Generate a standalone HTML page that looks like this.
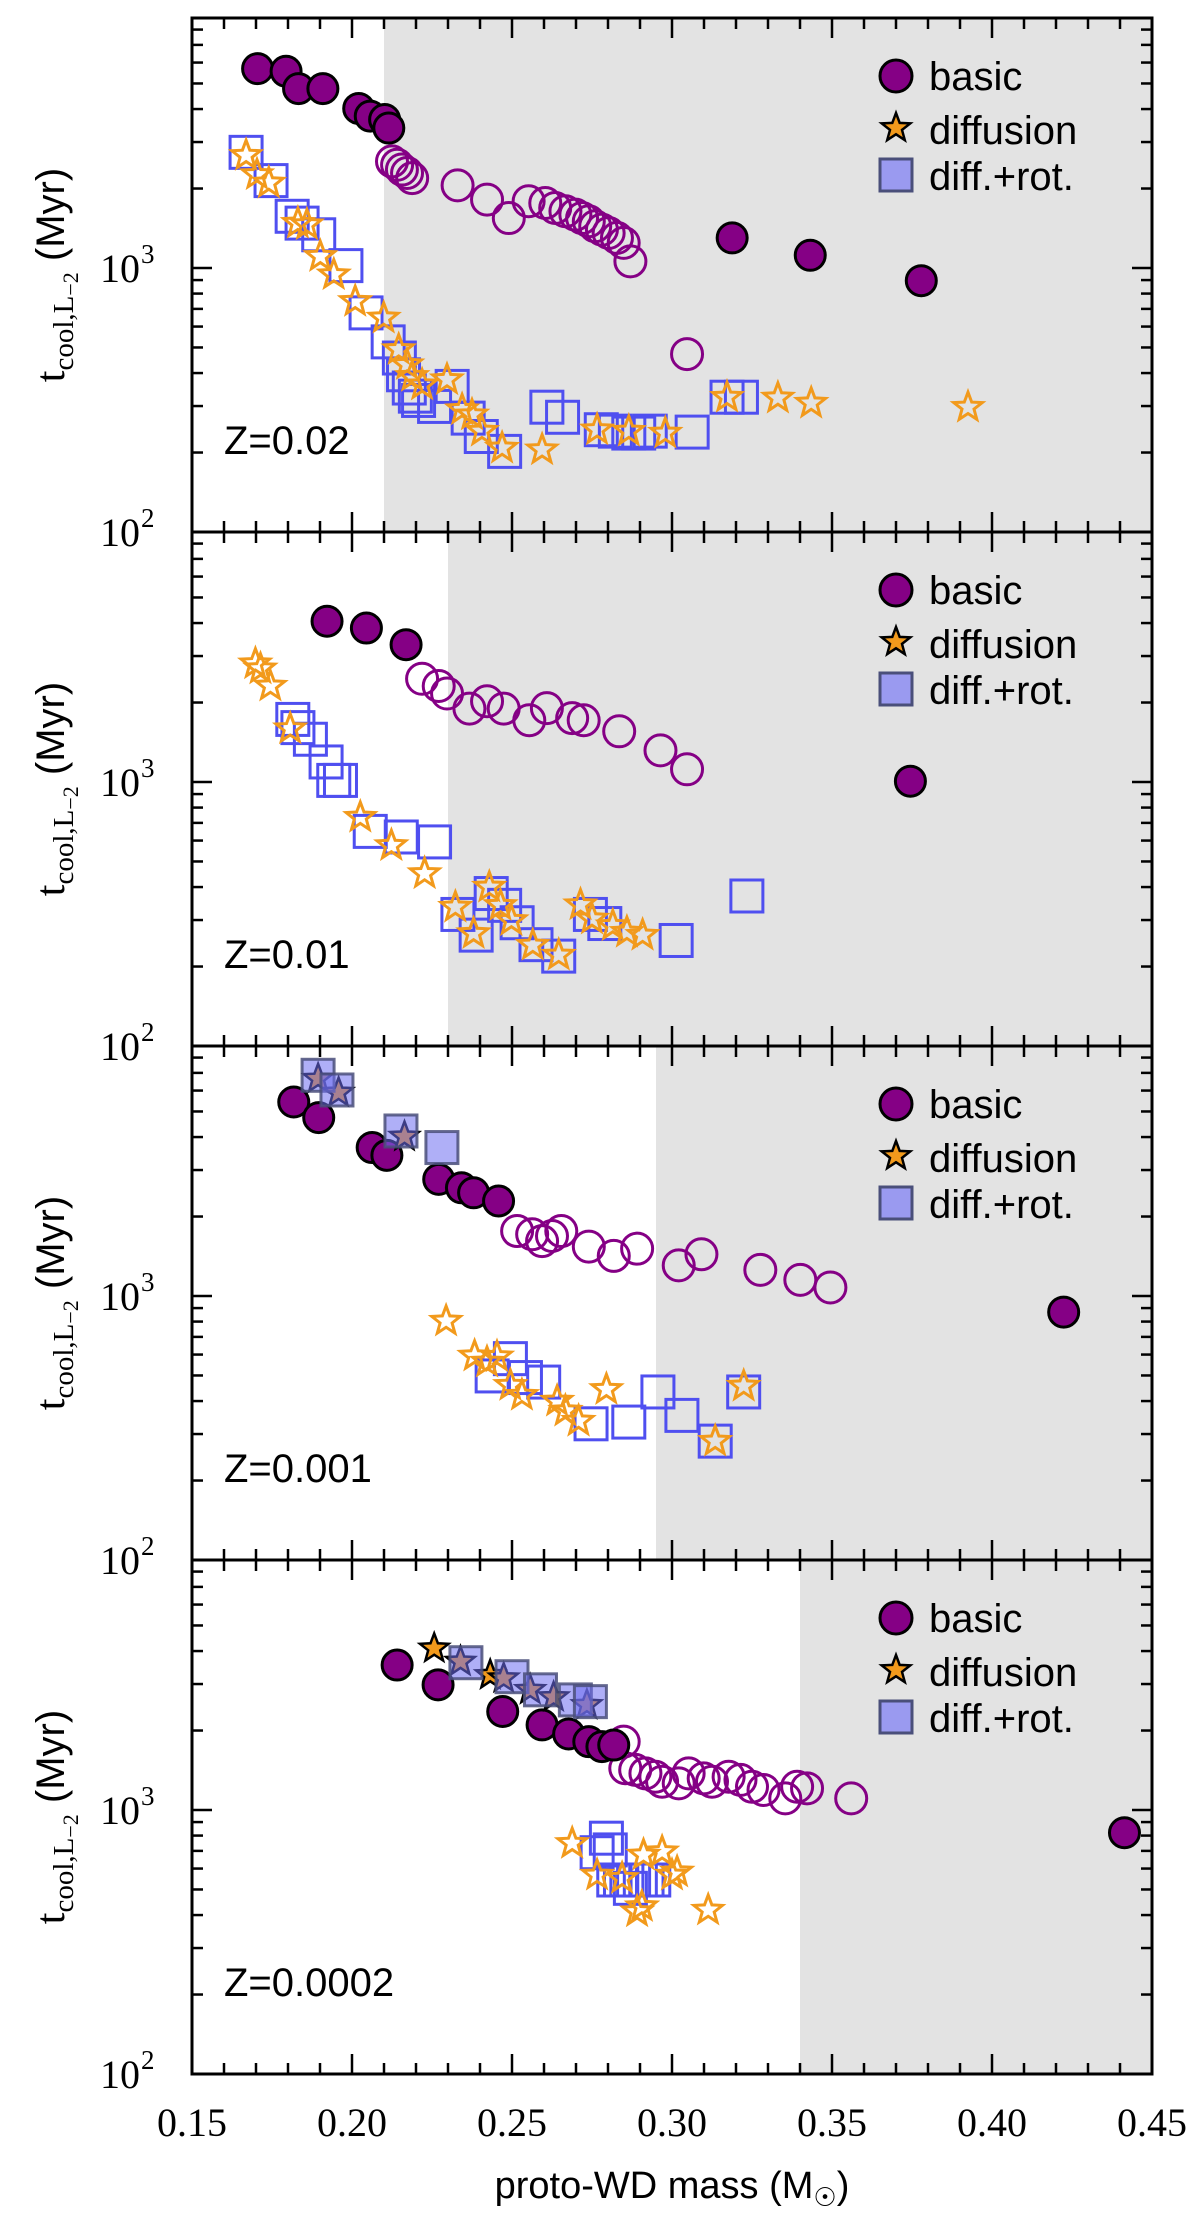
<!DOCTYPE html>
<html><head><meta charset="utf-8"><style>
html,body{margin:0;padding:0;background:#fff;}
svg{display:block;}
</style></head><body>
<svg id="chart" width="1200" height="2218" viewBox="0 0 1200 2218" xmlns="http://www.w3.org/2000/svg"></svg>
<script>
// ---- data (mass in Msun, t_cool in Myr) ----
const panelLabels = ["Z=0.02","Z=0.01","Z=0.001","Z=0.0002"];
const shadeStart = [0.21, 0.23, 0.295, 0.34];
const xTickLabels = ["0.15","0.20","0.25","0.30","0.35","0.40","0.45"];
const yTickLabels = ["10","10"];

// Panel 1 Z=0.02
const p1BasicSolidM = [0.1705,0.1794,0.1833,0.1909,0.2021,0.2057,0.2102,0.2115,0.3188,0.3432,0.3779];
const p1BasicSolidT = [5690,5560,4780,4780,4020,3760,3650,3390,1300,1117,895];
const p1BasicOpenM = [0.2125,0.2141,0.2156,0.2172,0.2188,0.2330,0.2422,0.2490,0.2552,0.2604,0.2635,0.2667,0.2698,0.2719,0.2740,0.2760,0.2781,0.2802,0.2828,0.2849,0.2870,0.3047];
const p1BasicOpenT = [2535,2460,2360,2290,2190,2056,1815,1546,1790,1763,1687,1640,1592,1546,1503,1439,1397,1357,1300,1245,1060,472];
const p1StarOpenM = [0.1669,0.1703,0.1740,0.1831,0.1859,0.1901,0.1943,0.2010,0.2099,0.2146,0.2172,0.2188,0.2219,0.2297,0.2344,0.2375,0.2406,0.2469,0.2594,0.2766,0.2865,0.2979,0.3172,0.3331,0.3435,0.3925];
const p1StarOpenT = [2672,2259,2100,1479,1459,1107,944,748,647,491,431,389,361,378,291,278,241,208,205,244,241,237,324,322,308,297];
const p1SquareOpenM = [0.1669,0.1747,0.1813,0.1844,0.1896,0.1981,0.2044,0.2113,0.2148,0.2161,0.2179,0.2198,0.2208,0.2258,0.2313,0.2363,0.2404,0.2477,0.2609,0.2658,0.2779,0.2823,0.2865,0.2896,0.2932,0.3063,0.3172,0.3217];
const p1SquareOpenT = [2742,2143,1570,1479,1336,1021,676,525,456,394,351,327,315,299,356,270,230,202,297,272,244,241,237,237,241,239,324,324];

// Panel 2 Z=0.01
const p2BasicSolidM = [0.1922,0.2045,0.2169,0.3745];
const p2BasicSolidT = [4064,3830,3311,1007];
const p2BasicOpenM = [0.2219,0.2271,0.2297,0.2367,0.2422,0.2474,0.2554,0.2609,0.2688,0.2724,0.2835,0.2964,0.3047];
const p2BasicOpenT = [2460,2310,2163,1897,2023,1897,1714,1905,1746,1714,1556,1318,1117];
const p2StarOpenM = [0.1698,0.1714,0.1745,0.1807,0.2026,0.2123,0.2227,0.2323,0.2380,0.2429,0.2464,0.2498,0.2565,0.2646,0.2714,0.2750,0.2815,0.2859,0.2908];
const p2StarOpenT = [2806,2685,2310,1592,736,575,450,336,267,400,341,299,241,221,343,303,286,270,263];
const p2SquareOpenM = [0.1815,0.1831,0.1870,0.1919,0.1943,0.1964,0.2057,0.2154,0.2258,0.2331,0.2388,0.2435,0.2477,0.2516,0.2575,0.2646,0.2745,0.2790,0.3013,0.3234];
const p2SquareOpenT = [1726,1607,1452,1191,1014,1014,650,619,593,315,263,378,341,293,242,219,315,291,251,370];

// Panel 3 Z=0.001
const p3BasicSolidM = [0.1818,0.1896,0.2063,0.2109,0.2271,0.2342,0.2380,0.2458,0.4224];
const p3BasicSolidT = [5430,4740,3650,3410,2766,2570,2460,2290,869];
const p3BasicOpenM = [0.2516,0.2563,0.2594,0.2625,0.2654,0.2740,0.2818,0.2891,0.3021,0.3092,0.3276,0.3401,0.3495];
const p3BasicOpenT = [1762,1714,1614,1687,1762,1538,1419,1511,1306,1439,1256,1151,1077];
const p3StarSolidM = [0.1894,0.1958,0.2164];
const p3StarSolidT = [6650,5890,4016];
const p3SquareSolidM = [0.1894,0.1953,0.2153,0.2281];
const p3SquareSolidT = [6855,6030,4217,3650];
const p3StarOpenM = [0.2294,0.2383,0.2422,0.2453,0.2495,0.2531,0.2641,0.2667,0.2708,0.2795,0.3135,0.3224];
const p3StarOpenT = [804,593,562,589,459,421,400,367,336,443,282,456];
const p3SquareOpenM = [0.2438,0.2495,0.2542,0.2599,0.2747,0.2865,0.2956,0.3031,0.3135,0.3224];
const p3SquareOpenT = [498,579,491,472,328,333,433,353,282,433];

// Panel 4 Z=0.0002
const p4BasicSolidM = [0.2141,0.2269,0.2471,0.2594,0.2677,0.2740,0.2781,0.2818,0.4414];
const p4BasicSolidT = [3540,2979,2361,2100,1941,1815,1738,1762,820];
const p4BasicOpenM = [0.2849,0.2854,0.2885,0.2917,0.2948,0.2969,0.3021,0.3052,0.3099,0.3125,0.3177,0.3214,0.3250,0.3286,0.3354,0.3391,0.3422,0.3560];
const p4BasicOpenT = [1815,1439,1419,1377,1337,1279,1262,1377,1318,1279,1337,1300,1225,1191,1107,1225,1208,1107];
const p4StarSolidM = [0.2257,0.2339,0.2432,0.2474,0.2557,0.2630,0.2734];
const p4StarSolidT = [4094,3648,3245,3155,2852,2675,2500];
const p4SquareSolidM = [0.2356,0.2500,0.2589,0.2698,0.2745];
const p4SquareSolidT = [3613,3198,2852,2612,2573];
const p4StarOpenM = [0.2688,0.2766,0.2844,0.2911,0.2969,0.3000,0.2891,0.2906,0.3016,0.3113];
const p4StarOpenT = [748,567,551,676,695,567,412,431,583,418];
const p4SquareOpenM = [0.2795,0.2766,0.2807,0.2818,0.2839,0.2859,0.2880,0.2901,0.2922,0.2943,0.2870];
const p4SquareOpenT = [782,689,706,543,543,543,543,543,543,543,505];

// ---- layout ----
const NS = "http://www.w3.org/2000/svg";
const svg = document.getElementById('chart');
const X0 = 192, X1 = 1152, XMIN = 0.15, XMAX = 0.45;
const PANEL_TOP0 = 18, PH = 514, YMIN = 100, YMAX = 8850;
const PURPLE = "#850085", ORANGE = "#f29a1c", BLUE = "#4f4ff0";
function xScale(m){ return X0 + (m - XMIN) / (XMAX - XMIN) * (X1 - X0); }
function yScale(t, top){ return top + (Math.log10(YMAX) - Math.log10(t)) / (Math.log10(YMAX) - Math.log10(YMIN)) * PH; }
function mk(tag, attrs, parent){ const e = document.createElementNS(NS, tag); for (const k in attrs) e.setAttribute(k, attrs[k]); (parent||svg).appendChild(e); return e; }
function starPath(cx, cy, R, r){ let d = ""; for (let i = 0; i < 10; i++){ const a = -Math.PI/2 + i*Math.PI/5; const rr = i%2 ? r : R; d += (i?"L":"M") + (cx + rr*Math.cos(a)).toFixed(1) + "," + (cy + rr*Math.sin(a)).toFixed(1); } return d + "Z"; }

function drawCircle(g, x, y, solid, name){
  const c = mk('circle', {cx:x, cy:y, r: solid?15:15.5, fill: solid?PURPLE:"none", stroke: solid?"#000":PURPLE, 'stroke-width': 3}, g);
  
  
}
function drawStar(g, x, y, solid, name){
  const s = mk('path', {d: starPath(x, y, 15, 6.3), fill: solid?ORANGE:"none", stroke: solid?"#000":ORANGE, 'stroke-width': solid?2.5:3, 'stroke-linejoin':'miter'}, g);
  
  
}
function drawSquare(g, x, y, solid, name){
  const s = mk('rect', {x:x-16, y:y-16, width:32, height:32, fill: solid?"rgba(110,110,240,0.55)":"none", stroke: solid?"#4a4f7a":BLUE, 'stroke-width': 3, 'stroke-opacity': solid?0.85:1}, g);
  
  
}

const panels = [
  {basicSolid:[p1BasicSolidM,p1BasicSolidT], basicOpen:[p1BasicOpenM,p1BasicOpenT], starOpen:[p1StarOpenM,p1StarOpenT], squareOpen:[p1SquareOpenM,p1SquareOpenT]},
  {basicSolid:[p2BasicSolidM,p2BasicSolidT], basicOpen:[p2BasicOpenM,p2BasicOpenT], starOpen:[p2StarOpenM,p2StarOpenT], squareOpen:[p2SquareOpenM,p2SquareOpenT]},
  {basicSolid:[p3BasicSolidM,p3BasicSolidT], basicOpen:[p3BasicOpenM,p3BasicOpenT], starSolid:[p3StarSolidM,p3StarSolidT], squareSolid:[p3SquareSolidM,p3SquareSolidT], starOpen:[p3StarOpenM,p3StarOpenT], squareOpen:[p3SquareOpenM,p3SquareOpenT]},
  {basicSolid:[p4BasicSolidM,p4BasicSolidT], basicOpen:[p4BasicOpenM,p4BasicOpenT], starSolid:[p4StarSolidM,p4StarSolidT], squareSolid:[p4SquareSolidM,p4SquareSolidT], starOpen:[p4StarOpenM,p4StarOpenT], squareOpen:[p4SquareOpenM,p4SquareOpenT]}
];

panels.forEach((p, i) => {
  const top = PANEL_TOP0 + i*PH, bot = top + PH;
  const g = mk('g', {});
  
  
  const sh = mk('rect', {x: xScale(shadeStart[i]), y: top, width: X1 - xScale(shadeStart[i]), height: PH, fill: "#e3e3e3"}, g);
  
  
  const drawSet = (arr, fn, solid, name) => { if (!arr) return; arr[0].forEach((m, k) => fn(g, xScale(m), yScale(arr[1][k], top), solid, name)); };
  drawSet(p.basicOpen, drawCircle, false, 'basic-open-point');
  drawSet(p.basicSolid, drawCircle, true, 'basic-point');
  drawSet(p.squareOpen, drawSquare, false, 'diff-rot-open-point');
  drawSet(p.starOpen, drawStar, false, 'diffusion-open-point');
  drawSet(p.starSolid, drawStar, true, 'diffusion-point');
  drawSet(p.squareSolid, drawSquare, true, 'diff-rot-point');
  const fr = mk('rect', {x: X0, y: top, width: X1-X0, height: PH, fill: "none", stroke: "#000", 'stroke-width': 3}, g);
  
  
  for (let k = 0; k <= 30; k++){
    const x = xScale(0.15 + k*0.01), len = (k%5===0) ? 20 : 11;
    mk('line', {x1:x, y1:bot, x2:x, y2:bot-len, stroke:"#000", 'stroke-width':2.5}, g);
    mk('line', {x1:x, y1:top, x2:x, y2:top+len, stroke:"#000", 'stroke-width':2.5}, g);
  }
  const yt = [];
  for (let d = 100; d <= 1000; d *= 10) for (let k = 1; k <= 9; k++){ const v = d*k; if (v <= YMAX) yt.push(v); }
  yt.forEach(v => {
    const y = yScale(v, top), major = (v===100 || v===1000), len = major ? 20 : 11;
    if (y < top + 1 || y > bot + 0.5) return;
    mk('line', {x1:X0, y1:y, x2:X0+len, y2:y, stroke:"#000", 'stroke-width':2.5}, g);
    mk('line', {x1:X1, y1:y, x2:X1-len, y2:y, stroke:"#000", 'stroke-width':2.5}, g);
  });
  [[1000,3],[100,2]].forEach(([v, e], j) => {
    const y = yScale(v, top);
    const t = mk('text', {x: 140, y: y + 14, 'text-anchor':'end', 'font-family':'"Liberation Serif", serif', 'font-size':40, fill:'#000'}, g);
    t.textContent = yTickLabels[j];
    
    
    const s = mk('text', {x: 141, y: y - 5, 'font-family':'"Liberation Serif", serif', 'font-size':27, fill:'#000'}, g);
    s.textContent = String(e);
    
    
  });
  const cy = top + PH/2;
  const yt2 = mk('text', {x: 0, y: 0, transform: `translate(64,${cy}) rotate(-90)`, 'text-anchor':'middle', 'font-family':'"Liberation Serif", serif', 'font-size':42, fill:'#000'}, g);
  
  
  yt2.innerHTML = 't<tspan font-size="29" dy="9">cool,L</tspan><tspan font-size="22" dy="5">−2</tspan><tspan dy="-14" font-family="Liberation Sans, sans-serif" font-size="40"> (Myr)</tspan>';
  const zl = mk('text', {x: 224, y: top + 436, 'font-family':'"Liberation Sans", sans-serif', 'font-size':40, fill:'#000'}, g);
  zl.textContent = panelLabels[i];
  
  
  const lg = mk('g', {}, g);
  
  
  const lc = mk('circle', {cx:896, cy:top+58, r:16, fill:PURPLE, stroke:"#000", 'stroke-width':3}, lg);
  
  
  const ls = mk('path', {d: starPath(896, top+110, 15, 6.3), fill:ORANGE, stroke:"#000", 'stroke-width':2.5}, lg);
  
  
  const lq = mk('rect', {x:880, y:top+141, width:32, height:32, fill:"#9a9af0", stroke:"#4a4f7a", 'stroke-width':3}, lg);
  
  
  [["basic",72],["diffusion",126],["diff.+rot.",172]].forEach(([txt, dy]) => {
    const t = mk('text', {x:929, y: top+dy, 'font-family':'"Liberation Sans", sans-serif', 'font-size':40, fill:'#000'}, lg);
    t.textContent = txt;
    
    
  });
});

xTickLabels.forEach((lab, k) => {
  const t = mk('text', {x: xScale(0.15 + k*0.05), y: 2136, 'text-anchor':'middle', 'font-family':'"Liberation Serif", serif', 'font-size':40, fill:'#000'});
  t.textContent = lab;
  
  
});
const xt = mk('text', {x: 672, y: 2198, 'text-anchor':'middle', 'font-family':'"Liberation Sans", sans-serif', 'font-size':38, fill:'#000'});


xt.innerHTML = 'proto-WD mass (M<tspan font-size="26" dy="8">☉</tspan><tspan dy="-8">)</tspan>';
</script>
</body></html>
